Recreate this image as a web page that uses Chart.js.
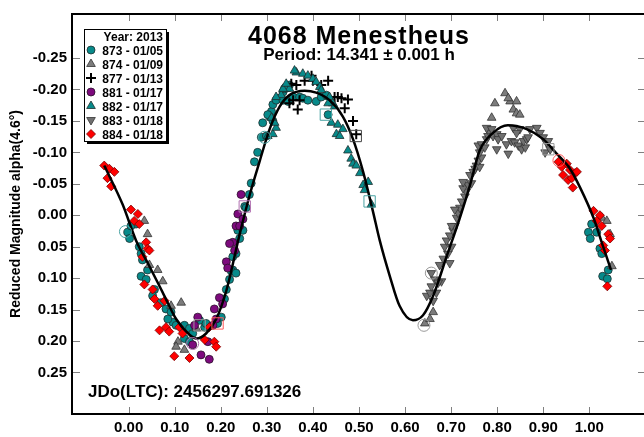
<!DOCTYPE html>
<html>
<head>
<meta charset="utf-8">
<script src="https://cdn.jsdelivr.net/npm/chart.js@4.4.1/dist/chart.umd.min.js"></script>
<style>
  html, body { margin: 0; padding: 0; background: #fff; overflow: hidden; }
  #wrap { width: 644px; height: 437px; overflow: hidden; }
</style>
</head>
<body>
<div id="wrap"><canvas id="chart1" width="660" height="437"></canvas></div>
<script>
// tick values
const xTicks = [0, 0.1, 0.2, 0.3, 0.4, 0.5, 0.6, 0.7, 0.8, 0.9, 1.0];
const yTicks = [-0.25, -0.2, -0.15, -0.1, -0.05, 0, 0.05, 0.1, 0.15, 0.2, 0.25];

// sessions (legend)
const sessions = ["873", "874", "877", "881", "882", "883", "884"];
const sessionLabels = ["873 - 01/05", "874 - 01/09", "877 - 01/13", "881 - 01/17", "882 - 01/17", "883 - 01/18", "884 - 01/18"];

// fitted curve
const fitCurve = [
  [-0.053, -0.079], [-0.013, -0.017], [0.016, 0.040], [0.045, 0.081], [0.074, 0.123], [0.103, 0.165],
  [0.132, 0.190], [0.147, 0.196], [0.168, 0.188], [0.190, 0.165], [0.212, 0.120], [0.241, 0.030],
  [0.263, -0.033], [0.284, -0.085], [0.306, -0.137], [0.328, -0.173], [0.349, -0.191], [0.382, -0.198],
  [0.407, -0.195], [0.436, -0.183], [0.465, -0.157], [0.487, -0.121], [0.509, -0.069], [0.530, -0.007],
  [0.545, 0.040], [0.567, 0.097], [0.588, 0.144], [0.617, 0.167], [0.639, 0.159], [0.661, 0.128],
  [0.690, 0.066], [0.719, 0.004], [0.741, -0.048], [0.762, -0.103], [0.791, -0.131], [0.823, -0.143],
  [0.864, -0.137], [0.900, -0.121], [0.929, -0.098], [0.958, -0.074], [0.980, -0.044], [1.009, 0.004],
  [1.030, 0.050], [1.047, 0.087]
];

const s873 = [
  [-0.002, 0.027], [0.002, 0.037], [0.016, 0.014], [0.005, 0.017], [0.023, 0.050], [0.027, 0.061], [0.030, 0.071],
  [0.041, 0.087], [0.027, 0.097], [0.038, 0.102], [0.056, 0.118], [0.052, 0.128], [0.070, 0.139], [0.081, 0.149],
  [0.092, 0.154], [0.096, 0.170], [0.085, 0.165], [0.103, 0.175], [0.121, 0.175], [0.132, 0.180], [0.139, 0.188],
  [0.154, 0.167], [0.165, 0.178], [0.168, 0.172], [0.193, 0.172], [0.201, 0.162], [0.208, 0.133], [0.212, 0.118],
  [0.219, 0.102], [0.226, 0.087], [0.233, 0.061], [0.237, 0.024], [0.121, 0.196], [0.132, 0.201],
  [0.266, -0.051], [0.262, -0.033], [0.252, -0.014], [0.255, -0.012], [0.248, 0.024], [0.241, 0.037], [0.226, 0.066],
  [0.223, 0.089], [0.233, 0.092], [0.273, -0.085], [0.280, -0.100], [0.291, -0.147], [0.288, -0.124], [0.310, -0.165],
  [0.306, -0.157], [0.313, -0.150], [0.328, -0.186], [0.335, -0.196], [0.338, -0.201],
  [0.299, -0.126], [0.302, -0.160], [0.313, -0.176], [0.320, -0.183], [0.342, -0.202], [0.349, -0.207], [0.335, -0.183],
  [0.346, -0.181], [0.357, -0.188], [0.371, -0.188], [0.378, -0.186], [0.389, -0.183], [0.407, -0.181], [0.418, -0.188],
  [0.429, -0.191], [0.433, -0.160],
  [1.005, 0.014], [0.998, 0.027], [1.002, 0.037], [1.016, 0.027], [1.023, 0.053], [1.027, 0.061], [1.041, 0.087],
  [1.029, 0.097], [1.039, 0.101]
];
const s874 = [
  [0.034, 0.009], [0.041, 0.030], [0.045, 0.079], [0.063, 0.087], [0.074, 0.105], [0.092, 0.144], [0.114, 0.139],
  [0.107, 0.201], [0.121, 0.214], [0.103, 0.209], [0.147, 0.180],
  [0.643, 0.172], [0.654, 0.165], [0.661, 0.154],
  [0.795, -0.178], [0.817, -0.194], [0.828, -0.181], [0.842, -0.181], [0.835, -0.168], [0.842, -0.162], [0.849, -0.160],
  [0.788, -0.155], [0.824, -0.186],
  [1.027, 0.004], [1.038, 0.009], [1.045, 0.030], [1.049, 0.081]
];
const s877 = [
  [0.353, -0.209], [0.364, -0.207], [0.371, -0.183], [0.367, -0.168], [0.382, -0.214], [0.397, -0.222], [0.400, -0.214],
  [0.433, -0.214], [0.357, -0.183], [0.349, -0.178], [0.447, -0.188], [0.454, -0.188], [0.462, -0.186], [0.476, -0.184],
  [0.469, -0.170], [0.487, -0.150], [0.494, -0.129], [0.418, -0.207]
];
const s881 = [
  [0.237, -0.002], [0.233, 0.017], [0.226, 0.043], [0.219, 0.045], [0.230, 0.056], [0.212, 0.074], [0.215, 0.084],
  [0.197, 0.131], [0.204, 0.141], [0.186, 0.149], [0.190, 0.165], [0.183, 0.175], [0.150, 0.162], [0.143, 0.175],
  [0.139, 0.206], [0.157, 0.222], [0.175, 0.229], [0.172, 0.201], [0.244, -0.033], [0.248, 0.006], [0.241, 0.017]
];
const s882 = [
  [0.302, -0.126], [0.313, -0.129], [0.320, -0.139], [0.317, -0.147], [0.310, -0.155], [0.331, -0.191], [0.342, -0.201],
  [0.349, -0.201], [0.364, -0.227], [0.378, -0.225], [0.360, -0.230], [0.389, -0.222], [0.400, -0.217], [0.407, -0.212],
  [0.415, -0.204], [0.418, -0.199], [0.335, -0.201], [0.342, -0.209], [0.320, -0.188], [0.436, -0.188], [0.443, -0.178],
  [0.433, -0.178], [0.447, -0.173], [0.440, -0.147], [0.454, -0.144], [0.451, -0.129], [0.458, -0.126], [0.465, -0.137],
  [0.476, -0.103], [0.483, -0.090], [0.487, -0.082], [0.494, -0.079], [0.502, -0.067], [0.509, -0.048], [0.512, -0.040],
  [0.520, -0.053], [0.527, -0.017]
];
const s883 = [
  [0.657, 0.092], [0.665, 0.102], [0.679, 0.105], [0.675, 0.079], [0.683, 0.069], [0.697, 0.076], [0.693, 0.061],
  [0.701, 0.050], [0.686, 0.050], [0.690, 0.040], [0.697, 0.032], [0.704, 0.024], [0.708, 0.017], [0.701, 0.017],
  [0.712, 0.004], [0.715, -0.004], [0.719, -0.012], [0.708, -0.009], [0.723, -0.022], [0.730, -0.030], [0.733, -0.038],
  [0.726, -0.043], [0.737, -0.048], [0.726, -0.053], [0.744, -0.051], [0.741, -0.064], [0.748, -0.069], [0.752, -0.074],
  [0.755, -0.079], [0.762, -0.077], [0.759, -0.087], [0.766, -0.092], [0.762, -0.100], [0.759, -0.111], [0.766, -0.113],
  [0.773, -0.108], [0.777, -0.121], [0.780, -0.126], [0.784, -0.131], [0.791, -0.126], [0.799, -0.129], [0.802, -0.121],
  [0.810, -0.126], [0.799, -0.105], [0.824, -0.098], [0.820, -0.113], [0.831, -0.118], [0.838, -0.116], [0.846, -0.111],
  [0.853, -0.105], [0.861, -0.108], [0.857, -0.118], [0.864, -0.121], [0.849, -0.137], [0.835, -0.139], [0.842, -0.131],
  [0.777, -0.139], [0.788, -0.137], [0.647, 0.128], [0.654, 0.123], [0.661, 0.136], [0.657, 0.113], [0.668, 0.123],
  [0.672, 0.107], [0.871, -0.137], [0.886, -0.139], [0.893, -0.131], [0.900, -0.124], [0.907, -0.116], [0.904, -0.100],
  [0.915, -0.105], [0.867, -0.124], [0.911, -0.118]
];
const s884 = [
  [-0.053, -0.079], [-0.042, -0.074], [-0.031, -0.069], [-0.046, -0.059], [-0.038, -0.046],
  [0.005, -0.009], [0.020, -0.002], [0.012, 0.009], [0.023, 0.014], [0.038, 0.043], [0.041, 0.053], [0.045, 0.056],
  [0.030, 0.066], [0.034, 0.110], [0.052, 0.118], [0.056, 0.133], [0.063, 0.144], [0.078, 0.136], [0.067, 0.183],
  [0.081, 0.178], [0.088, 0.185], [0.110, 0.178], [0.099, 0.224], [0.132, 0.227], [0.165, 0.198], [0.186, 0.201],
  [0.190, 0.209], [0.175, 0.178], [0.117, 0.188],
  [0.933, -0.085], [0.940, -0.077], [0.951, -0.082], [0.958, -0.072], [0.969, -0.067], [0.943, -0.064], [0.954, -0.056],
  [0.962, -0.059], [0.973, -0.069], [0.964, -0.044], [1.009, -0.007], [1.023, 0.000], [1.016, 0.009], [1.027, 0.017],
  [1.041, 0.030], [1.045, 0.037], [1.034, 0.056], [1.039, 0.113], [1.030, 0.048]
];
const sessionData = [s873, s874, s877, s881, s882, s883, s884];

// open markers (session first/last points)
const openCircles = [[-0.007, 0.026], [0.139, 0.204], [0.295, -0.124], [0.657, 0.092], [0.641, 0.175], [0.934, -0.087]];
const openCircleSessions = ["873", "881", "873", "883", "874", "884"];
const openSquares = [[0.154, 0.175], [0.193, 0.172], [0.252, -0.014], [0.428, -0.160], [0.493, -0.126], [0.523, -0.022], [0.911, -0.105]];
const openSquareSessions = ["874", "884", "881", "882", "877", "882", "883"];

// styles
const FONT = "'Liberation Sans', Arial, sans-serif";
const sessionStyle = {
  "873": { shape: "circle", rotation: 0, radius: 4, fill: "#078a8a", border: "#1f2f2f", width: 0.8, open: "#4aa3a3" },
  "874": { shape: "triangle", rotation: 0, radius: 5, fill: "#7c7c7c", border: "#333", width: 0.8, open: "#999" },
  "877": { shape: "cross", rotation: 0, radius: 5, fill: "#000", border: "#000", width: 2, open: "#444" },
  "881": { shape: "circle", rotation: 0, radius: 4, fill: "#7d0a7d", border: "#2a102a", width: 0.8, open: "#b070b0" },
  "882": { shape: "triangle", rotation: 0, radius: 5, fill: "#078a8a", border: "#1f2f2f", width: 0.8, open: "#4aa3a3" },
  "883": { shape: "triangle", rotation: 180, radius: 5, fill: "#707070", border: "#333", width: 0.8, open: "#999" },
  "884": { shape: "rectRot", rotation: 0, radius: 4.5, fill: "#ff0000", border: "#7a0000", width: 0.8, open: "#ff5a5a" }
};

const toXY = pts => pts.map(p => ({ x: p[0], y: p[1] }));

const datasets = [
  {
    data: toXY(openCircles), pointStyle: "circle", pointRadius: 6, backgroundColor: "rgba(0,0,0,0)",
    borderColor: openCircleSessions.map(s => sessionStyle[s].open), borderWidth: 1, order: 0
  },
  {
    data: toXY(openSquares), pointStyle: "rect", pointRadius: 8, backgroundColor: "rgba(0,0,0,0)",
    borderColor: openSquareSessions.map(s => sessionStyle[s].open), borderWidth: 1, order: 0
  },
  {
    data: toXY(fitCurve), showLine: true, borderColor: "#000", borderWidth: 2.5, pointRadius: 0,
    cubicInterpolationMode: "monotone", fill: false, order: 1
  }
];
sessions.forEach((name, i) => {
  const st = sessionStyle[name];
  datasets.push({
    label: sessionLabels[i], data: toXY(sessionData[i]), pointStyle: st.shape, rotation: st.rotation,
    pointRadius: st.radius, backgroundColor: st.fill, borderColor: st.border, borderWidth: st.width, order: 9 - i
  });
});

const framePlugin = {
  id: "frame",
  afterDraw(chart) {
    const { ctx, chartArea: a, scales: { x, y } } = chart;
    const seg = (x1, y1, x2, y2) => { ctx.beginPath(); ctx.moveTo(x1, y1); ctx.lineTo(x2, y2); ctx.stroke(); };
    ctx.save();
    // inward ticks
    ctx.strokeStyle = "#808080";
    ctx.lineWidth = 1;
    xTicks.forEach(v => {
      const px = Math.round(x.getPixelForValue(v)) + 0.5;
      seg(px, a.bottom, px, a.bottom - 7);
      seg(px, a.top, px, a.top + 7);
    });
    yTicks.forEach(v => {
      const py = Math.round(y.getPixelForValue(v)) + 0.5;
      seg(a.left, py, a.left + 8, py);
      seg(a.right, py, a.right - 8, py);
    });
    // frame
    ctx.strokeStyle = "#000";
    ctx.lineWidth = 2;
    ctx.strokeRect(a.left, a.top, a.right - a.left, a.bottom - a.top);

    // titles
    const cx = (a.left + a.right) / 2;
    ctx.fillStyle = "#000";
    ctx.textAlign = "center";
    ctx.textBaseline = "alphabetic";
    ctx.font = "bold 25px " + FONT;
    ctx.letterSpacing = "1px";
    ctx.fillText("4068 Menestheus", cx, a.top + 30);
    ctx.letterSpacing = "0px";
    ctx.font = "bold 17px " + FONT;
    ctx.fillText("Period: 14.341 \u00b1 0.001 h", cx, a.top + 46);
    ctx.textAlign = "left";
    ctx.fillText("JDo(LTC): 2456297.691326", a.left + 16, a.top + 383);

    // legend box
    const lx = a.left + 12, ly = a.top + 15, lw = 82, lh = 112;
    ctx.fillStyle = "#000";
    ctx.fillRect(lx + 3, ly + 3, lw, lh);
    ctx.fillStyle = "#fff";
    ctx.fillRect(lx, ly, lw, lh);
    ctx.strokeStyle = "#000";
    ctx.lineWidth = 1;
    ctx.strokeRect(lx + 0.5, ly + 0.5, lw, lh);
    ctx.fillStyle = "#000";
    ctx.font = "bold 12px " + FONT;
    ctx.textAlign = "right";
    ctx.fillText("Year: 2013", lx + lw - 3, ly + 12);
    sessions.forEach((name, i) => {
      const st = sessionStyle[name];
      const rowY = ly + 21 + i * 14;
      ctx.fillStyle = st.fill;
      ctx.strokeStyle = st.border;
      ctx.lineWidth = st.width;
      Chart.helpers.drawPoint(ctx, { pointStyle: st.shape, rotation: st.rotation, radius: st.radius, borderWidth: st.width }, lx + 7, rowY);
      ctx.fillStyle = "#000";
      ctx.fillText(sessionLabels[i], lx + lw - 3, rowY + 4.5);
    });
    ctx.restore();
  }
};

new Chart(document.getElementById("chart1"), {
  type: "scatter",
  data: { datasets: datasets },
  options: {
    responsive: false,
    animation: false,
    layout: { padding: { top: 7, right: 14, left: 0, bottom: 0 } },
    plugins: { legend: { display: false }, tooltip: { enabled: false } },
    scales: {
      x: {
        type: "linear", min: -0.123, max: 1.123,
        afterBuildTicks: s => { s.ticks = xTicks.map(v => ({ value: v })); },
        afterFit: s => { s.height = 23; },
        grid: { display: false, drawTicks: false },
        border: { display: false },
        ticks: {
          color: "#000", padding: 5, maxRotation: 0, autoSkip: false,
          font: { family: FONT, size: 15, weight: "bold" },
          callback: v => v.toFixed(2)
        }
      },
      y: {
        type: "linear", reverse: true, min: -0.32, max: 0.316,
        afterBuildTicks: s => { s.ticks = yTicks.map(v => ({ value: v })); },
        afterFit: s => { s.width = 72; },
        grid: { display: false, drawTicks: false },
        border: { display: false },
        title: {
          display: true, text: "Reduced Magnitude alpha(4.6\u00b0)", color: "#000",
          font: { family: FONT, size: 14, weight: "bold" }, padding: { top: 8, bottom: 0 }
        },
        ticks: {
          color: "#000", padding: 5, autoSkip: false,
          font: { family: FONT, size: 15, weight: "bold" },
          callback: v => v.toFixed(2)
        }
      }
    }
  },
  plugins: [framePlugin]
});
</script>
</body>
</html>
